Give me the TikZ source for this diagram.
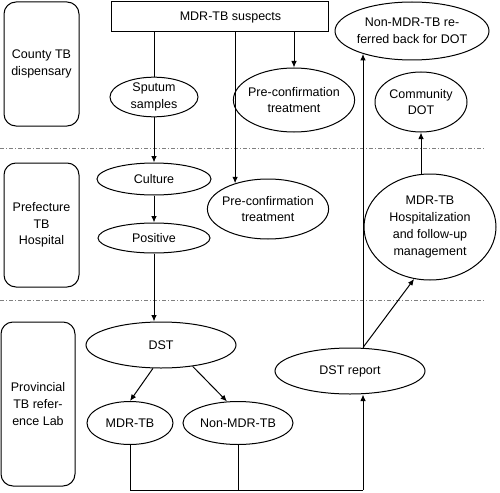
\documentclass[tikz,border=0pt]{standalone}
\usepackage{fontspec}
\setmainfont{Liberation Sans}
\usepackage{tikz}
\usetikzlibrary{arrows.meta, shapes.geometric}
\tikzstyle{lane} = [draw, rectangle, rounded corners=12pt, align=center, inner sep=0pt]
\tikzstyle{stage} = [draw, ellipse, align=center, inner sep=0pt, inner xsep=-3pt]
\tikzstyle{flow} = [-{Latex[length=6.5pt, width=5.5pt]}]
\tikzstyle{link} = []
\tikzstyle{divider} = [gray, dash pattern=on 4pt off 2pt on 1pt off 2pt]

\begin{document}
\begin{tikzpicture}[x=1pt, y=-1pt, line width=1pt,
    font=\fontsize{12.5}{16.7}\selectfont]
    \useasboundingbox (0,0) rectangle (500,492);

    % Lanes.
    \node (county) [lane, minimum width=75pt, minimum height=124pt] at (41.5,64) {County TB\\dispensary};
    \node (prefecture) [lane, minimum width=75pt, minimum height=124pt] at (41.5,225) {Prefecture\\TB\\Hospital};
    \node (province) [lane, minimum width=74pt, minimum height=164pt] at (38,404) {Provincial\\TB refer-\\ence Lab};
    \draw [divider] (0,148) -- (484,148);
    \draw [divider] (0,300) -- (484,300);

    % County.
    \node (suspects) [draw, rectangle, minimum width=217pt, minimum height=30pt] at (219.5,17) {\hspace*{22pt}MDR-TB suspects};
    \node (sputum) [stage, minimum width=88pt, minimum height=39pt] at (154,97) {Sputum\\samples};
    \node (preconf1) [stage, minimum width=120pt, minimum height=64pt] at (294,100) {Pre-confirmation\\treatment};
    \node (back) [stage, minimum width=154pt, minimum height=58pt] at (412,31) {Non-MDR-TB re-\\ferred back for DOT};
    \node (community) [stage, minimum width=92pt, minimum height=60pt] at (421,102) {Community\\DOT};

    % Prefecture.
    \node (culture) [stage, minimum width=114pt, minimum height=32pt] at (154,179) {Culture};
    \node (positive) [stage, minimum width=112pt, minimum height=30pt] at (154,238) {Positive};
    \node (preconf2) [stage, minimum width=120pt, minimum height=60pt] at (268,209) {Pre-confirmation\\treatment};
    \node (hosp) [stage, minimum width=132pt, minimum height=106pt] at (430,227) {MDR-TB\\Hospitalization\\and follow-up\\management};

    % Province.
    \node (dst) [stage, minimum width=150pt, minimum height=46pt] at (161,345) {DST};
    \node (mdr) [stage, minimum width=86pt, minimum height=43pt] at (130,423) {MDR-TB};
    \node (nonmdr) [stage, minimum width=110pt, minimum height=43pt] at (238,423) {Non-MDR-TB};
    \node (report) [stage, minimum width=150pt, minimum height=46pt] at (350,371) {DST report};
    \coordinate (base) at (363,490);

    % Arrows.
    \draw [link] (suspects.south -| sputum) -- (sputum);
    \draw [flow] (suspects.south -| preconf1) -- (preconf1);
    \draw [flow] (suspects.south -| preconf2.142) -- (preconf2.142);
    \draw [flow] (sputum) -- (culture);
    \draw [flow] (culture) -- (positive);
    \draw [flow] (positive) -- (dst.north -| positive);
    \draw [flow] (dst.-109) -- (mdr.north);
    \draw [flow] (dst.-34) -- (nonmdr.117);
    \draw [link] (mdr.south) |- (base);
    \draw [link] (nonmdr.south) -- (nonmdr.south |- base);
    \draw [flow] (base) -- (report.south -| base);
    \draw [flow] (report.north -| base) -- (back.-155 -| base);
    \draw [flow] (report.north -| base) -- (hosp.-107);
    \draw [flow] (hosp.north -| community) -- (community);
\end{tikzpicture}
\end{document}
